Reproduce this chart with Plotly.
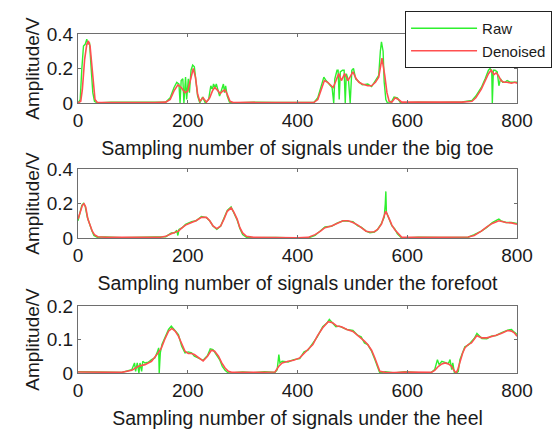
import plotly.graph_objects as go

# ---- data ----
toe_den_x = [0,5,8,12,16,19,22,25,28,31,35,60,100,140,160,168,175,182,188,195,200,205,210,214,218,222,228,234,240,245,249,254,259,264,268,272,277,283,320,360,400,430,437,443,449,455,460,465,469,475,480,486,492,497,501,507,512,518,528,535,542,548,554,559,563,567,572,578,584,590,620,660,700,718,725,735,742,748,753,758,762,766,771,776,782,790,796,800]
toe_den_y = [0.0,0.01,0.08,0.25,0.34,0.36,0.33,0.22,0.09,0.02,0.004,0.003,0.004,0.003,0.005,0.02,0.07,0.105,0.09,0.06,0.07,0.13,0.2,0.15,0.05,0.01,0.03,0.005,0.03,0.07,0.09,0.075,0.055,0.07,0.075,0.05,0.01,0.003,0.004,0.002,0.003,0.004,0.02,0.08,0.13,0.12,0.105,0.09,0.12,0.17,0.13,0.17,0.13,0.16,0.18,0.14,0.12,0.11,0.10,0.10,0.12,0.15,0.26,0.16,0.06,0.01,0.005,0.03,0.02,0.005,0.004,0.004,0.005,0.01,0.03,0.08,0.13,0.17,0.19,0.165,0.175,0.16,0.13,0.12,0.12,0.115,0.12,0.115]

toe_raw_x = [0,4,7,10,13,16,18,21,24,27,30,35,60,100,140,160,168,175,180,184,186,188,191,193,196,198,201,203,206,209,212,215,218,222,227,232,238,242,245,247,250,252,255,258,262,265,267,269,272,276,283,320,360,400,430,437,443,448,452,458,463,466,468,472,474,476,478,482,485,487,489,493,496,499,502,506,512,518,528,535,542,548,551,553,556,558,561,564,570,576,582,588,620,660,700,718,725,735,742,748,751,754,755,757,760,764,767,770,774,778,782,788,794,800]
toe_raw_y = [0.0,0.02,0.2,0.33,0.34,0.37,0.34,0.35,0.2,0.06,0.01,0.0,0.004,0.005,0.003,0.006,0.03,0.09,0.12,0.11,0.0,0.13,0.14,0.0,0.15,0.02,0.14,0.06,0.19,0.22,0.21,0.12,0.04,0.0,0.035,0.0,0.02,0.1,0.08,0.11,0.09,0.11,0.07,0.04,0.08,0.11,0.06,0.1,0.04,0.005,0.0,0.005,0.003,0.004,0.003,0.03,0.09,0.15,0.13,0.11,0.09,0.0,0.14,0.19,0.19,0.02,0.18,0.19,0.19,0.0,0.17,0.13,0.0,0.19,0.2,0.14,0.12,0.105,0.11,0.095,0.13,0.16,0.3,0.355,0.3,0.12,0.02,0.0,0.0,0.035,0.03,0.0,0.005,0.003,0.006,0.015,0.04,0.09,0.14,0.19,0.2,0.18,0.0,0.19,0.19,0.18,0.1,0.14,0.12,0.12,0.13,0.12,0.12,0.12]

fore_den_x = [0,4,8,11,14,18,22,26,30,36,50,80,120,150,160,170,183,190,196,207,215,225,234,240,246,253,260,266,272,279,284,290,295,300,307,320,360,400,419,432,442,450,462,472,483,492,501,510,516,525,532,540,546,553,557,561,566,572,577,582,590,620,660,711,722,735,745,755,767,773,780,790,800]
fore_den_y = [0.11,0.15,0.19,0.198,0.18,0.11,0.07,0.04,0.02,0.008,0.005,0.003,0.004,0.005,0.01,0.025,0.04,0.06,0.075,0.09,0.1,0.12,0.12,0.1,0.07,0.055,0.07,0.11,0.155,0.175,0.15,0.11,0.06,0.03,0.01,0.004,0.002,0.002,0.004,0.02,0.04,0.06,0.07,0.085,0.1,0.1,0.09,0.075,0.06,0.04,0.035,0.037,0.05,0.08,0.12,0.155,0.12,0.075,0.05,0.03,0.004,0.004,0.005,0.006,0.015,0.04,0.065,0.085,0.1,0.095,0.09,0.088,0.08]

fore_raw_x = [0,3,7,10,13,17,21,25,29,35,50,80,120,150,160,170,176,180,182,184,190,196,207,215,225,234,240,246,253,260,266,272,279,284,290,295,300,307,320,360,400,419,432,442,450,462,472,483,492,501,510,516,525,532,540,546,553,558,560,561,562,566,572,577,582,590,620,660,711,722,735,745,755,764,767,771,780,790,800]
fore_raw_y = [0.1,0.14,0.19,0.2,0.185,0.12,0.075,0.045,0.015,0.005,0.007,0.002,0.005,0.004,0.008,0.03,0.03,0.045,0.015,0.05,0.06,0.08,0.095,0.1,0.125,0.118,0.1,0.07,0.05,0.07,0.115,0.16,0.18,0.15,0.105,0.055,0.02,0.005,0.002,0.003,0.0,0.0,0.015,0.04,0.065,0.068,0.087,0.1,0.098,0.095,0.07,0.063,0.04,0.03,0.035,0.05,0.085,0.12,0.2,0.27,0.15,0.12,0.07,0.055,0.025,0.0,0.005,0.003,0.005,0.02,0.04,0.062,0.09,0.105,0.11,0.1,0.09,0.09,0.085]

heel_den_x = [0,40,80,98,110,122,134,146,152,158,165,171,177,183,189,195,201,207,212,218,228,236,243,249,256,262,268,274,280,320,359,366,372,383,393,404,412,419,428,436,446,456,464,472,480,490,501,510,516,522,528,535,541,546,550,560,577,596,620,644,650,657,663,669,675,681,685,689,692,696,701,705,711,717,722,727,731,736,745,753,762,771,783,790,795,800]
heel_den_y = [0.003,0.002,0.002,0.008,0.02,0.025,0.035,0.06,0.075,0.1,0.125,0.133,0.125,0.11,0.085,0.065,0.058,0.058,0.055,0.048,0.036,0.05,0.068,0.065,0.05,0.03,0.015,0.005,0.002,0.002,0.003,0.02,0.03,0.035,0.038,0.045,0.06,0.07,0.085,0.11,0.135,0.153,0.15,0.14,0.138,0.13,0.124,0.112,0.105,0.095,0.085,0.068,0.045,0.02,0.005,0.002,0.001,0.003,0.002,0.002,0.008,0.02,0.027,0.03,0.027,0.02,0.008,0.0,0.01,0.035,0.06,0.075,0.085,0.09,0.1,0.112,0.108,0.105,0.105,0.108,0.113,0.118,0.127,0.125,0.12,0.11]

heel_raw_x = [0,20,40,60,80,98,103,105,108,111,113,116,118,122,128,134,140,144,147,148,150,153,158,165,170,175,183,189,195,201,207,212,218,228,236,241,246,252,258,263,268,274,280,300,320,340,359,363,366,368,372,383,393,404,412,419,428,436,446,454,458,464,470,476,482,490,501,506,510,516,522,528,535,541,546,550,560,577,596,620,644,650,655,658,663,669,675,678,681,683,686,690,693,696,701,705,711,717,722,727,731,736,745,753,762,771,783,790,795,800]
heel_raw_y = [0.004,0.003,0.004,0.001,0.002,0.01,0.03,0.005,0.03,0.0,0.03,0.005,0.035,0.03,0.032,0.04,0.045,0.06,0.075,0.0,0.06,0.085,0.105,0.13,0.14,0.13,0.115,0.08,0.06,0.063,0.06,0.05,0.045,0.038,0.052,0.072,0.07,0.055,0.04,0.02,0.008,0.0,0.0,0.003,0.001,0.004,0.002,0.01,0.055,0.03,0.035,0.033,0.04,0.043,0.063,0.068,0.09,0.108,0.138,0.15,0.16,0.148,0.138,0.14,0.135,0.13,0.127,0.12,0.112,0.108,0.09,0.085,0.065,0.04,0.015,0.0,0.004,0.0,0.004,0.001,0.002,0.01,0.04,0.025,0.035,0.032,0.028,0.04,0.01,0.03,0.0,0.0,0.005,0.04,0.06,0.078,0.083,0.093,0.103,0.118,0.11,0.103,0.102,0.11,0.112,0.12,0.128,0.13,0.122,0.115]

x_titles = ["Sampling number of signals under the big toe",
            "Sampling number of signals under the forefoot",
            "Sampling number of signals under the heel"]
y_title = "Amplitude/V"
x_ticks = [0, 200, 400, 600, 800]
y_ticks_top = [0, 0.2, 0.4]
y_ticks_heel = [0, 0.1, 0.2]

GREEN = "#2ef02e"
RED = "#ff5050"
FONT = "Liberation Sans, Arial, sans-serif"
TXT = "#1a1a1a"
AX = "#6e6e6e"

panels = [
    (toe_raw_x, toe_raw_y, toe_den_x, toe_den_y, y_ticks_top, [0.7965, 1.0]),
    (fore_raw_x, fore_raw_y, fore_den_x, fore_den_y, y_ticks_top, [0.398, 0.602]),
    (heel_raw_x, heel_raw_y, heel_den_x, heel_den_y, y_ticks_heel, [0.0, 0.1976]),
]

fig = go.Figure()
for i, (rx, ry, dx, dy, yt, dom) in enumerate(panels):
    n = "" if i == 0 else str(i + 1)
    fig.add_trace(go.Scatter(x=rx, y=ry, mode="lines", name="Raw",
                             line=dict(color=GREEN, width=1.4),
                             xaxis="x" + n, yaxis="y" + n, showlegend=(i == 0)))
    fig.add_trace(go.Scatter(x=dx, y=dy, mode="lines", name="Denoised",
                             line=dict(color=RED, width=1.6),
                             xaxis="x" + n, yaxis="y" + n, showlegend=(i == 0)))
    common = dict(showline=True, linecolor=AX, linewidth=1, mirror="ticks",
                  ticks="inside", ticklen=3, tickcolor=AX, showgrid=False,
                  zeroline=False, tickfont=dict(family=FONT, size=19, color=TXT))
    fig.update_layout(**{
        "xaxis" + n: dict(domain=[0, 1], anchor="y" + n, range=[0, 800],
                          tickvals=x_ticks, ticktext=[str(v) for v in x_ticks],
                          title=dict(text=x_titles[i], standoff=11,
                                     font=dict(family=FONT, size=19.5, color=TXT)),
                          **common),
        "yaxis" + n: dict(domain=dom, anchor="x" + n, range=[0, yt[-1]],
                          tickvals=yt, ticktext=[("0" if v == 0 else f"{v:g}") for v in yt],
                          title=dict(text=y_title, standoff=2,
                                     font=dict(family=FONT, size=19, color=TXT)),
                          **common),
    })

fig.update_layout(
    width=555, height=432,
    margin=dict(l=78, r=38, t=34, b=59, autoexpand=False),
    paper_bgcolor="white", plot_bgcolor="white",
    font=dict(family=FONT, size=18, color=TXT),
    legend=dict(x=0.745, y=1.068, xanchor="left", yanchor="top",
                bgcolor="white", bordercolor="#222", borderwidth=1,
                font=dict(family=FONT, size=15, color=TXT),
                tracegroupgap=0, itemwidth=66),
)

fig.write_html("out.html")
